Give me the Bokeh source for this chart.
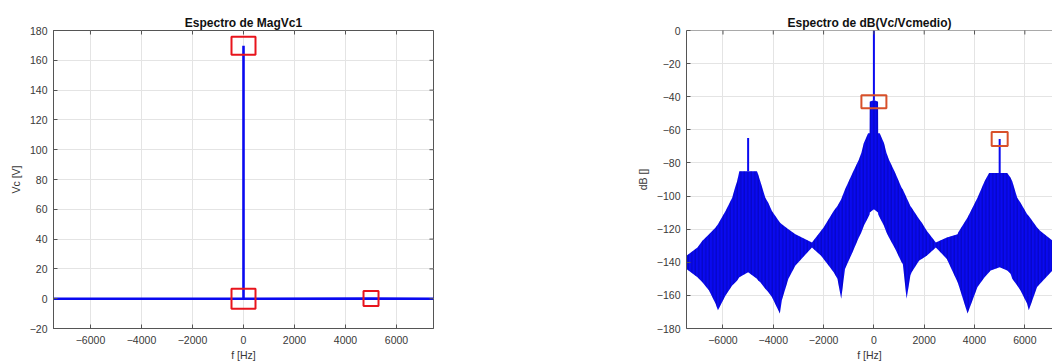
import math
from bokeh.plotting import figure
from bokeh.layouts import row
from bokeh.models import Range1d, FixedTicker, Span
from bokeh.embed import file_html
from bokeh.resources import INLINE

# ---- magnitude spectrum of Vc1 ----
mag_f = [-7450, 0, 0, 0, 5000, 7450]
mag_v = [0.0, 0.0, 169.7, 0.0, 0.1, 0.0]

# highlighted components (f, value) and box size in px
mag_mark_f = [0, 0, 5000]
mag_mark_v = [169.7, 0.0, 0.1]
mag_mark_w = [24, 24, 15]
mag_mark_h = [18, 20, 15]

# ---- dB spectrum of Vc / Vcmedio: envelope of the dense line spectrum ----
env_f = [-7450, -7015, -6818, -6554, -6293, -6200, -5898, -5634, -5500, -5436,
         -5350, -5000, -4650, -4600, -4516, -4318, -4200, -4055, -3738, -3660,
         -3400, -3120, -3000, -2463, -2100, -2000, -1800, -1600, -1450, -1300,
         -1150, -1000, -850, -600, -500, -400, -230, -200, -170, -165, 0,
         165, 170, 200, 230, 400, 500, 600, 850, 1100, 1150, 1300, 1450,
         1500, 1800, 1900, 2100, 2463, 2900, 3328, 3350, 3723, 4118, 4400,
         4580, 4642, 5000, 5300, 5434, 5500, 5697, 5829, 6092, 6158, 6487,
         6605, 7100]
env_hi = [-136, -131, -127, -123, -119, -117, -109, -101, -94, -91,
          -85, -85, -85, -87, -91, -101, -104, -109, -116, -117,
          -120, -123, -124, -128, -121, -119, -114, -109, -106, -102,
          -96, -91, -86, -78, -74, -68, -62, -62, -62, -43, -42,
          -43, -62, -62, -62, -68, -74, -78, -86, -95, -96, -101, -106,
          -107, -114, -116, -121, -128, -125, -123, -122, -113, -101, -91,
          -86, -86, -86, -86, -89, -91, -101, -104, -111, -112, -119,
          -121, -127]
env_lo = [-144, -149, -152, -157, -165, -169, -160, -154, -152, -151,
          -149, -146, -150, -151, -152, -156, -158, -161, -171, -163,
          -150, -142, -140, -131, -136, -138, -142, -146, -150, -162,
          -144, -139, -134, -125, -122, -118, -113, -112, -111, -110, -108,
          -110, -111, -112, -113, -118, -122, -125, -132, -140, -141, -162, -148,
          -146, -139, -138, -136, -131, -138, -152, -153, -171, -155, -149,
          -146, -145, -143, -145, -147, -150, -154, -157, -165, -169, -155,
          -153, -145]

# isolated spectral lines rising above the envelope
line_f = [-5000, 0, 5000]
line_top = [-65.0, 0.0, -65.5]
line_base = [-85, -42, -86]

# highlighted components on the dB plot
db_mark_f = [0, 5000]
db_mark_v = [-43.0, -65.5]
db_mark_w = [25, 16]
db_mark_h = [13, 14]

x_ticks = [-6000, -4000, -2000, 0, 2000, 4000, 6000]
mag_ticks = list(range(-20, 181, 20))
db_ticks = list(range(-180, 1, 20))

FONT = "Liberation Sans"
BLUE = "#0a0af0"
AX = "#555555"
TXT = "#383838"
GRID = "#e4e4e4"


def style(p, yticks):
    p.title.text_font = FONT
    p.title.text_font_size = "12px"
    p.title.text_font_style = "bold"
    p.title.align = "center"
    p.title.text_color = "#111111"
    p.title.standoff = 2
    for ax in p.axis:
        ax.major_label_text_font = FONT
        ax.major_label_text_font_size = "10.5px"
        ax.major_label_text_color = TXT
        ax.axis_label_text_font = FONT
        ax.axis_label_text_font_size = "10.5px"
        ax.axis_label_text_font_style = "normal"
        ax.axis_label_text_color = TXT
        ax.axis_line_color = AX
        ax.major_tick_line_color = AX
        ax.major_tick_in = 4
        ax.major_tick_out = 0
        ax.minor_tick_line_color = None
    p.xaxis.ticker = FixedTicker(ticks=x_ticks)
    p.yaxis.ticker = FixedTicker(ticks=yticks)
    p.xaxis.major_label_standoff = 7
    p.xaxis.axis_label_standoff = 2
    p.yaxis.major_label_standoff = 6
    p.xgrid.ticker = FixedTicker(ticks=x_ticks)
    p.ygrid.ticker = FixedTicker(ticks=yticks)
    p.grid.grid_line_color = GRID


def box_ticks(p, ytop, xright=None, yticks=()):
    # inward tick marks along the top edge (and the right edge when it is shown)
    p.scatter(x_ticks, [ytop] * len(x_ticks), marker="dash", angle=math.pi / 2,
              size=8, line_color=AX, line_width=1)
    if xright is not None:
        p.scatter([xright] * len(yticks), list(yticks), marker="dash",
                  size=8, line_color=AX, line_width=1)


p1 = figure(width=633, height=364, x_range=Range1d(-7450, 7450), y_range=Range1d(-20, 180),
            output_backend="svg", toolbar_location=None, title="Espectro de MagVc1",
            min_border_left=53, min_border_right=200, min_border_top=30, min_border_bottom=36,
            x_axis_label="f [Hz]", y_axis_label="Vc [V]")
style(p1, mag_ticks)
p1.outline_line_color = AX
p1.line(mag_f, mag_v, line_color=BLUE, line_width=2.6)
p1.rect(mag_mark_f, mag_mark_v, width=mag_mark_w, height=mag_mark_h,
        width_units="screen", height_units="screen",
        fill_color=None, line_color="#e8141c", line_width=2)
box_ticks(p1, 180, 7450, mag_ticks)

p2 = figure(width=419, height=364, x_range=Range1d(-7450, 7100), y_range=Range1d(-180, 0),
            output_backend="svg", toolbar_location=None, title="Espectro de dB(Vc/Vcmedio)",
            min_border_left=48, min_border_right=0, min_border_top=30, min_border_bottom=36,
            x_axis_label="f [Hz]", y_axis_label="dB []")
style(p2, db_ticks)
p2.outline_line_color = None
p2.varea(x=env_f, y1=env_lo, y2=env_hi, fill_color=BLUE,
         hatch_pattern="vertical_line", hatch_scale=3.5, hatch_color="#00007a",
         hatch_alpha=0.45, hatch_weight=1)
p2.segment(x0=line_f, y0=line_base, x1=line_f, y1=line_top,
           line_color=BLUE, line_width=2)
p2.rect(db_mark_f, db_mark_v, width=db_mark_w, height=db_mark_h,
        width_units="screen", height_units="screen",
        fill_color=None, line_color="#d8502a", line_width=2)
box_ticks(p2, 0)
p2.add_layout(Span(location=0, dimension="width", line_color=AX, line_width=1))

layout = row(p1, p2)
open("out.html", "w").write(file_html(layout, INLINE))
